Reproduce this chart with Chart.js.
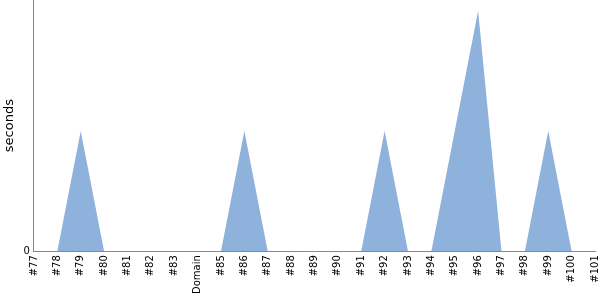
<!DOCTYPE html>
<html>
<head>
<meta charset="utf-8">
<script src="https://cdn.jsdelivr.net/npm/chart.js@4"></script>
<style>
  html, body { margin: 0; padding: 0; background: #fff; }
  #wrap { width: 600px; height: 300px; position: relative; }
</style>
</head>
<body>
<div id="wrap"><canvas id="chart"></canvas></div>
<script>
// x categories (build ids)
const labels = ['#77', '#78', '#79', '#80', '#81', '#82', '#83', 'Domain', '#85', '#86', '#87',
  '#88', '#89', '#90', '#91', '#92', '#93', '#94', '#95', '#96', '#97', '#98', '#99', '#100', '#101'];
// duration in seconds
const seconds = [0, 0, 1, 0, 0, 0, 0, 0, 0, 1, 0, 0, 0, 0, 0, 1, 0, 0, 1, 2, 0, 0, 1, 0, 0];
const yTicks = [0];

Chart.defaults.font.family = 'DejaVu Sans';
Chart.defaults.color = '#000';

new Chart(document.getElementById('chart').getContext('2d'), {
  type: 'line',
  data: {
    labels: labels,
    datasets: [{
      label: 'seconds',
      data: seconds,
      fill: 'origin',
      backgroundColor: '#8fb2dc',
      borderColor: '#8fb2dc',
      borderWidth: 0,
      pointRadius: 0,
      tension: 0,
    }],
  },
  options: {
    responsive: true,
    maintainAspectRatio: false,
    animation: false,
    layout: { padding: { top: 0, right: 0, bottom: 2, left: 2 } },
    plugins: { legend: { display: false }, tooltip: { enabled: false } },
    scales: {
      x: {
        grid: { display: false, drawTicks: false },
        border: { color: '#888' },
        afterFit: (axis) => { axis.paddingRight = 5; axis.paddingLeft = 0; },
        ticks: {
          font: { size: 10 },
          minRotation: 90,
          maxRotation: 90,
          autoSkip: false,
          padding: 4,
        },
      },
      y: {
        min: 0,
        max: 2.09,
        grid: { display: false, drawTicks: false },
        border: { color: '#888' },
        afterBuildTicks: (axis) => { axis.ticks = yTicks.map((v) => ({ value: v })); },
        afterFit: (axis) => { axis.paddingTop = 0; },
        ticks: { font: { size: 10 }, padding: 4 },
        title: { display: true, text: 'seconds', font: { size: 13 }, padding: { top: 0, bottom: 2 } },
      },
    },
  },
});
</script>
</body>
</html>
